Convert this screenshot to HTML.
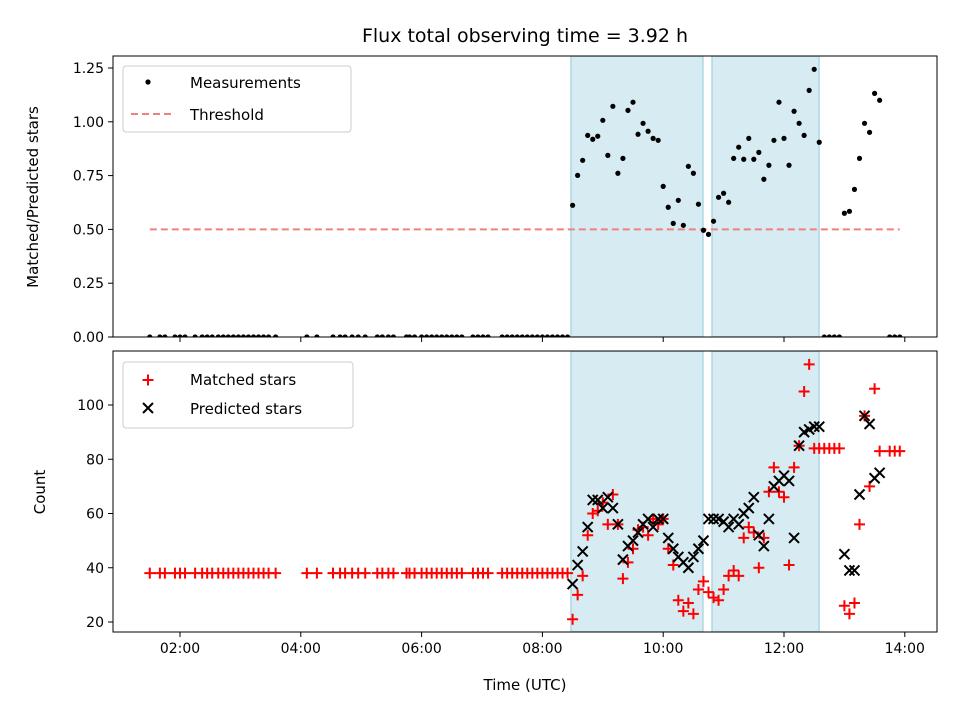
<!DOCTYPE html>
<html><head><meta charset="utf-8">
<style>body{margin:0;background:#fff}svg{display:block;font-family:"DejaVu Sans","Liberation Sans",sans-serif}</style>
</head><body>
<svg id="c" width="960" height="720" viewBox="0 0 960 720" xmlns="http://www.w3.org/2000/svg"></svg>
<script>
// ---- data (times in minutes since 00:00 UTC) ----
const zeroTimes = [90,100,105,115,120,125,135,142,147,152,158,163,168,173,178,183,188,193,198,203,208,215,246,256,272,279,284,291,297,304,316,321,327,332,345,348,353,360,365,370,375,380,385,390,395,400,411,416,421,426,440,445,450,455,460,465,470,475,480,485,490,495,500,505];
const zeroMatched = 38;
const activeStart = 510;
const activeStep = 5;
const ratioActive = [0.612,0.751,0.821,0.937,0.919,0.933,1.007,0.844,1.072,0.761,0.830,1.053,1.091,0.942,0.993,0.956,0.923,0.914,0.700,0.603,0.528,0.635,0.519,0.793,0.761,0.617,0.496,0.477,0.538,0.649,0.668,0.626,0.830,0.882,0.826,0.923,0.826,0.858,0.733,0.798,0.914,1.091,0.923,0.798,1.049,0.993,0.937,1.146,1.244,0.905];
const matchedActive = [21,30,37,52,60,61,64,56,67,56,36,42,47,54,55,52,58,56,58,47,41,28,24,27,23,32,35,31,29,28,32,37,39,37,51,55,53,40,51,68,77,68,66,41,77,85,105,115,84,84];
const predictedActive = [34,41,46,55,65,65,62,66,62,56,43,48,50,53,56,58,55,58,58,51,47,44,42,40,44,47,50,58,58,58,57,55,58,56,60,62,66,52,48,58,70,72,74,72,51,85,90,91,92,92];
const gapTimes = [760,765,770,775];
const gapMatched = [84,84,84,84];
const lateStart = 780;
const ratioLate = [0.575,0.584,0.686,0.830,0.993,0.951,1.132,1.100];
const matchedLate = [26,23,27,56,96,70,106,83];
const predictedLate = [45,39,39,67,96,93,73,75];
const endTimes = [825,830,835];
const endMatched = [83,83,83];
const spanStarts = [508.4,648.5];
const spanEnds = [639.5,754.8];
const threshold = 0.5;
const xTicks = [120,240,360,480,600,720,840];
const xTickLabels = ["02:00","04:00","06:00","08:00","10:00","12:00","14:00"];
const topTicks = [0,0.25,0.5,0.75,1.0,1.25];
const topTickLabels = ["0.00","0.25","0.50","0.75","1.00","1.25"];
const botTicks = [20,40,60,80,100];
const botTickLabels = ["20","40","60","80","100"];

// ---- scales ----
const L=113,R=937,T1=56,B1=337,T2=351,B2=632;
const X = m => 180 + (m-120)*60.4/60;
const Y1 = v => 337 - v*215.2;
const Y2 = c => 622 - (c-20)*2.7125;
const NS="http://www.w3.org/2000/svg";
const svg=document.getElementById('c');
function el(tag,attrs,parent){const e=document.createElementNS(NS,tag);for(const k in attrs)e.setAttribute(k,attrs[k]);(parent||svg).appendChild(e);return e;}

// assemble series
const ratioT=[],ratioV=[],mT=[],mV=[],pT=[],pV=[];
zeroTimes.forEach(t=>{ratioT.push(t);ratioV.push(0);mT.push(t);mV.push(zeroMatched);});
ratioActive.forEach((v,i)=>{const t=activeStart+i*activeStep;ratioT.push(t);ratioV.push(v);mT.push(t);mV.push(matchedActive[i]);pT.push(t);pV.push(predictedActive[i]);});
gapTimes.forEach((t,i)=>{ratioT.push(t);ratioV.push(0);mT.push(t);mV.push(gapMatched[i]);});
ratioLate.forEach((v,i)=>{const t=lateStart+i*activeStep;ratioT.push(t);ratioV.push(v);mT.push(t);mV.push(matchedLate[i]);pT.push(t);pV.push(predictedLate[i]);});
endTimes.forEach((t,i)=>{ratioT.push(t);ratioV.push(0);mT.push(t);mV.push(endMatched[i]);});
const tMin=Math.min(...ratioT),tMax=Math.max(...ratioT);

// clip paths
const defs=el('defs',{});
const c1=el('clipPath',{id:'clip1'},defs);el('rect',{x:L,y:T1,width:R-L,height:B1-T1},c1);
const c2=el('clipPath',{id:'clip2'},defs);el('rect',{x:L,y:T2,width:R-L,height:B2-T2},c2);

// title
let t=el('text',{x:525,y:42,'text-anchor':'middle','font-size':'19'});t.textContent='Flux total observing time = 3.92 h';



function panel(top,bot,clip,yscale,ticks,labels,name){
  const g=el('g',{'clip-path':'url(#'+clip+')'});
  
  
  spanStarts.forEach((s,i)=>{
    const r=el('rect',{x:X(s),y:top,width:X(spanEnds[i])-X(s),height:bot-top,fill:'#add8e6','fill-opacity':0.5,stroke:'#add8e6','stroke-width':1.5},g);
    
    
  });
  // ticks
  ticks.forEach((v,i)=>{const y=yscale(v);el('line',{x1:L-5,x2:L,y1:y,y2:y,stroke:'#000','stroke-width':1});
    const tx=el('text',{x:L-9,y:y+5,'text-anchor':'end','font-size':'14'});tx.textContent=labels[i];
    
    });
  xTicks.forEach(m=>{const x=X(m);el('line',{x1:x,x2:x,y1:bot,y2:bot+5,stroke:'#000','stroke-width':1});});
  return g;
}
const g1=panel(T1,B1,'clip1',Y1,topTicks,topTickLabels,'ratio');
const g2=panel(T2,B2,'clip2',Y2,botTicks,botTickLabels,'count');

// threshold
const th=el('line',{x1:X(tMin),x2:X(tMax),y1:Y1(threshold),y2:Y1(threshold),stroke:'#f08080','stroke-width':2,'stroke-dasharray':'7,4'},g1);


// measurements
ratioT.forEach((tm,i)=>{const c=el('circle',{cx:X(tm),cy:Y1(ratioV[i]),r:2.6,fill:'#000'},g1);
  
  });
// matched +
mT.forEach((tm,i)=>{const x=X(tm),y=Y2(mV[i]);const p=el('path',{d:`M${x-5.5},${y}H${x+5.5}M${x},${y-5.5}V${y+5.5}`,stroke:'#f00','stroke-width':2},g2);
  
  });
// predicted x
pT.forEach((tm,i)=>{const x=X(tm),y=Y2(pV[i]);const p=el('path',{d:`M${x-5},${y-5}L${x+5},${y+5}M${x-5},${y+5}L${x+5},${y-5}`,stroke:'#000','stroke-width':2},g2);
  
  });

// frames
[[T1,B1,'top-axes-frame'],[T2,B2,'bottom-axes-frame']].forEach(([a,b,n])=>{const r=el('rect',{x:L,y:a,width:R-L,height:b-a,fill:'none',stroke:'#000','stroke-width':1});
  
  });
// x tick labels
xTicks.forEach((m,i)=>{const tx=el('text',{x:X(m),y:B2+21,'text-anchor':'middle','font-size':'14'});tx.textContent=xTickLabels[i];
  
  });
// axis titles
let a=el('text',{x:525,y:690,'text-anchor':'middle','font-size':'15'});a.textContent='Time (UTC)';


a=el('text',{x:0,y:0,'text-anchor':'middle','font-size':'15',transform:'translate(38,197) rotate(-90)'});a.textContent='Matched/Predicted stars';


a=el('text',{x:0,y:0,'text-anchor':'middle','font-size':'15',transform:'translate(45,492) rotate(-90)'});a.textContent='Count';



// legends
function legend(y0,w,name){const g=el('g',{});
  el('rect',{x:123,y:y0,width:w,height:66,rx:3,fill:'#fff','fill-opacity':0.85,stroke:'#ccc'},g);return g;}
let lg=legend(66,228,'top-legend');
el('circle',{cx:148,cy:82,r:2.6,fill:'#000'},lg);
let lt=el('text',{x:190,y:88,'font-size':'15'},lg);lt.textContent='Measurements';


el('line',{x1:131,x2:173,y1:114,y2:114,stroke:'#f08080','stroke-width':2,'stroke-dasharray':'7,4'},lg);
lt=el('text',{x:190,y:120,'font-size':'15'},lg);lt.textContent='Threshold';


lg=legend(362,230,'bottom-legend');
el('path',{d:'M142.5,380H153.5M148,374.5V385.5',stroke:'#f00','stroke-width':2},lg);
lt=el('text',{x:190,y:385,'font-size':'15'},lg);lt.textContent='Matched stars';


el('path',{d:'M143,403L153,413M143,413L153,403',stroke:'#000','stroke-width':2},lg);
lt=el('text',{x:190,y:414,'font-size':'15'},lg);lt.textContent='Predicted stars';


</script>
</body></html>
